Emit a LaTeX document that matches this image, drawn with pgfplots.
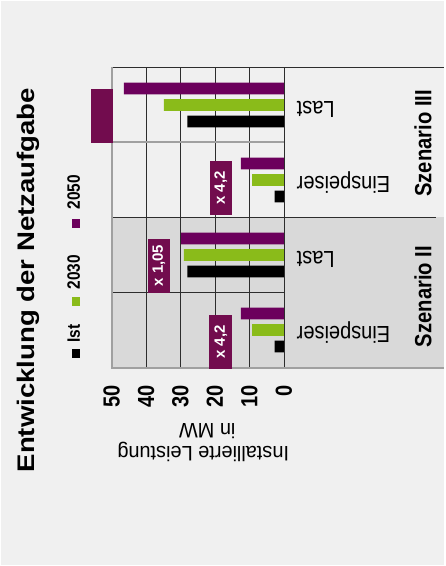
\documentclass[border=0pt]{standalone}
\usepackage{pgfplots}
\pgfplotsset{compat=1.18}
\usepackage{pgfplotstable}
\usepackage{fontspec}
\setmainfont{Liberation Sans}
\newfontface\titleface[FakeStretch=1.15]{Liberation Sans Bold}
\newfontface\boldnarrow[FakeStretch=0.86]{Liberation Sans Bold}
\newfontface\regnarrow[FakeStretch=0.86]{Liberation Sans}
\newfontface\regwide[FakeStretch=0.95]{Liberation Sans}
\newfontface\boxface{Liberation Sans Bold}

\definecolor{bg}{RGB}{240,240,240}
\definecolor{bandgray}{RGB}{217,217,217}
\definecolor{gridc}{RGB}{45,45,45}
\definecolor{framec}{RGB}{160,160,160}
\definecolor{barpurple}{RGB}{108,0,92}
\definecolor{boxpurple}{RGB}{114,12,78}
\definecolor{bargreen}{RGB}{138,187,26}

% installed capacity in MW
% cat: 0 = Sz. II Einspeiser, 1 = Sz. II Last, 2 = Sz. III Einspeiser, 3 = Sz. III Last
\pgfplotstableread{
cat ist  y2030 y2050
0   2.7  9.2   12.5
1   28.0 29.0  29.8
2   2.7  9.2   12.5
3   28.0 34.8  46.4
}\netzdata

\begin{document}
\begin{tikzpicture}
% page background
\fill[bg] (0pt,0pt) rectangle (445pt,566pt);
\draw[white, line width=1.5pt] (0.75pt,0pt) -- (0.75pt,565.25pt) -- (445pt,565.25pt);
% Szenario II band
\fill[bandgray] (111.7pt,198pt) rectangle (445pt,348.3pt);

\begin{axis}[
  at={(198pt,348.25pt)}, anchor=center,
  scale only axis, width=172.6pt, height=300.5pt,
  xbar, x dir=reverse,
  bar width=0.156,
  xmin=0, xmax=50, ymin=-0.5, ymax=3.5,
  xtick={0,10,20,30,40,50},
  ytick=\empty,
  xmajorgrids, grid style={gridc, line width=0.8pt},
  major tick length=0pt,
  axis line style={draw=none},
  /pgf/number format/assume math mode=true,
  xticklabel style={rotate=90, anchor=east, inner sep=0pt,
    font=\boldnarrow\fontsize{23.3}{26}\selectfont},
  xticklabel shift=18pt,
  clip=false,
]
\addplot[draw=none, fill=black, bar shift=-0.22] table[x=ist, y=cat]{\netzdata};
\addplot[draw=none, fill=bargreen, bar shift=0] table[x=y2030, y=cat]{\netzdata};
\addplot[draw=none, fill=barpurple, bar shift=0.22] table[x=y2050, y=cat]{\netzdata};

% frame and separators
\draw[gridc, line width=0.8pt] (axis cs:50,3.5) -- (axis cs:-46.55,3.5);
\draw[gridc, line width=0.8pt] (axis cs:0,-0.5) -- (axis cs:0,3.5);
\draw[gridc, line width=0.8pt] (axis cs:50,1.5) -- (axis cs:-44.1,1.5);
\draw[gridc, line width=0.8pt] (axis cs:50,0.5) -- (axis cs:0,0.5);
\draw[framec, line width=2pt] (axis cs:50,2.5) -- (axis cs:0,2.5);
\draw[framec, line width=2pt] (axis cs:50,3.5) -- (axis cs:50,-0.5) -- (axis cs:-46.55,-0.5);

% growth factors
\fill[boxpurple] (axis cs:49.7,2.496) rectangle (axis cs:56.0,3.215);
\node[fill=boxpurple, text=white, rotate=90, inner sep=0pt,
  minimum width=55pt, minimum height=23pt,
  font=\boxface\fontsize{15}{15}\selectfont] at (axis cs:18.3,-0.16) {x 4,2};
\node[fill=boxpurple, text=white, rotate=90, inner sep=0pt,
  minimum width=55pt, minimum height=22pt,
  font=\boxface\fontsize{15}{15}\selectfont] at (axis cs:18.3,1.893) {x 4,2};
\node[fill=boxpurple, text=white, rotate=90, inner sep=0pt,
  minimum width=54pt, minimum height=22pt,
  font=\boxface\fontsize{15}{15}\selectfont] at (axis cs:36.3,0.858) {x 1,05};
\end{axis}

% title
\node[rotate=90, inner sep=0pt, font=\titleface\fontsize{24}{28}\selectfont]
  at (28pt,285.5pt) {Entwicklung der Netzaufgabe};

% legend
\fill[black] (72pt,208pt) rectangle (80pt,217pt);
\fill[bargreen] (72pt,260pt) rectangle (80pt,269pt);
\fill[barpurple] (72pt,338pt) rectangle (80pt,347pt);
\begin{scope}[every node/.style={rotate=90, anchor=west, inner sep=0pt,
    text height=0.72em, text depth=0pt,
    font=\boldnarrow\fontsize{18}{20}\selectfont}]
  \node at (76.5pt,223pt) {Ist};
  \node at (76.5pt,276pt) {2030};
  \node at (76.5pt,356pt) {2050};
\end{scope}

% category labels
\begin{scope}[every node/.style={rotate=180, anchor=east, inner sep=0pt,
    text height=0.72em, text depth=0pt,
    font=\regnarrow\fontsize{23.3}{26}\selectfont}]
  \node at (297pt,461pt) {Last};
  \node at (297pt,385.9pt) {Einspeiser};
  \node at (297pt,311pt) {Last};
  \node at (297pt,235.8pt) {Einspeiser};
\end{scope}

% scenario labels
\node[rotate=90, inner sep=0pt, font=\boldnarrow\fontsize{23.5}{26}\selectfont]
  at (423.5pt,422.5pt) {Szenario III};
\node[rotate=90, inner sep=0pt, font=\boldnarrow\fontsize{23.5}{26}\selectfont]
  at (423.5pt,269pt) {Szenario II};

% value axis title
\begin{scope}[every node/.style={rotate=180, inner sep=0pt,
    text height=0.72em, text depth=0pt,
    font=\regwide\fontsize{21}{23}\selectfont}]
  \node at (203.5pt,115.5pt) {Installierte Leistung};
  \node at (207.5pt,138.5pt) {in MW};
\end{scope}
\end{tikzpicture}
\end{document}
